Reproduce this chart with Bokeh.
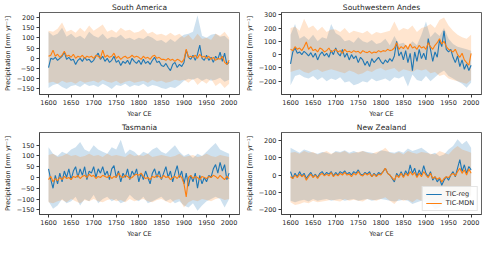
from bokeh.plotting import figure
from bokeh.layouts import gridplot
from bokeh.models import Range1d, FixedTicker, Legend, LegendItem
from bokeh.embed import file_html
from bokeh.resources import INLINE

YEARS = list(range(1600, 2001, 5))
BAND_YEARS = list(range(1600, 2001, 10))
X_TICKS = [1600, 1650, 1700, 1750, 1800, 1850, 1900, 1950, 2000]

# ---------------- South America ----------------
sa_reg = [-45, 0, -5, 5, -10, 0, 10, 30, -5, 5,
          -10, -5, -30, -10, 0, -15, 5, -10, -5, -20,
          -10, 10, 25, -5, 10, -15, 0, -20, -10, 10,
          -20, -10, -35, -15, -25, -10, -30, 0, -15, -25,
          -10, -30, -5, -25, -15, -30, -10, 5, -20, -15,
          -35, -40, -25, -45, -60, -30, -20, -45, -30, -40,
          -20, 40, 5, -5, 15, -10, 20, 65, 0, -10,
          15, -10, 5, -20, 10, -5, 30, -15, 25, -30, -20]
sa_mdn = [10, 15, 40, 10, 20, 5, 15, 35, 10, 15,
          5, 20, 0, 10, 5, 15, 0, 10, 5, 10,
          0, 15, 10, 0, 40, 5, 15, 5, 10, 25,
          0, 10, -5, 5, 10, 0, 5, 15, 5, 10,
          5, -5, 10, 0, 5, -5, 10, 15, 0, 5,
          -5, -5, -10, 0, -10, -5, -15, -5, -10, -20,
          -5, 45, 5, 10, 5, 15, 0, 20, 5, 10,
          0, 10, -5, 5, -10, 0, -5, 10, -20, -30, -10]
sa_mdn_hi = [135, 130, 145, 175, 130, 140, 125, 150, 130, 160,
             135, 150, 165, 130, 140, 125, 150, 135, 140, 125,
             130, 145, 120, 130, 115, 120, 110, 125, 110, 120,
             100, 115, 90, 120, 95, 100, 90, 120, 110, 130, 100]
sa_mdn_lo = [-120, -115, -125, -110, -120, -115, -125, -110, -120, -115,
             -110, -120, -105, -115, -120, -110, -125, -115, -110, -120,
             -115, -110, -120, -105, -115, -110, -120, -115, -105, -110,
             -105, -120, -100, -130, -110, -125, -100, -135, -120, -145, -125]
sa_reg_hi = [130, 110, 120, 150, 105, 120, 100, 110, 95, 130,
             110, 100, 120, 95, 105, 100, 115, 95, 100, 90,
             100, 95, 110, 100, 85, 90, 75, 95, 80, 100,
             115, 120, 130, 210, 110, 100, 115, 120, 105, 110, 90]
sa_reg_lo = [-145, -130, -125, -140, -150, -135, -130, -140, -125, -135,
             -130, -140, -125, -135, -150, -130, -135, -125, -140, -130,
             -135, -125, -140, -130, -135, -145, -150, -140, -145, -130,
             -110, -100, -105, -95, -110, -100, -110, -105, -95, -115, -105]

# ---------------- Southwestern Andes ----------------
swa_reg = [-70, 20, 50, 10, 20, 0, 25, 10, -10, 15,
           -20, 10, -40, 0, 20, -10, 10, -20, 30, 0,
           50, 10, -10, 40, -20, 10, -40, 0, -30, -10,
           -60, -20, -40, -80, -50, -90, -30, -60, -40, -20,
           -50, -70, -40, -60, -30, -50, -10, 100, -10, 20,
           -40, 30, -60, 10, -120, 20, -50, 40, -30, 10,
           -40, 120, 40, -50, 20, -20, 110, 60, 180, 40,
           20, 40, -20, -60, -10, -90, -40, -110, -70, -120, -80]
swa_mdn = [40, 30, 60, 40, 50, 30, 60, 95, 40, 60,
           30, 40, 20, 50, 40, 20, 30, 50, 20, 30,
           40, 20, 30, 10, 40, 20, 25, 15, 30, 20,
           25, 10, 30, 20, 15, 25, 10, 20, 15, 30,
           20, 30, 25, 40, 30, 35, 50, 90, 40, 60,
           45, 70, 40, 80, 50, 60, 40, 70, 50, 60,
           40, 90, 60, 40, 70, 90, 120, 80, 100, 60,
           40, 30, 20, 40, 0, -20, 10, -40, -60, -80, 10]
swa_mdn_hi = [200, 210, 180, 270, 200, 220, 180, 210, 170, 190,
              190, 170, 200, 160, 180, 170, 160, 180, 150, 170,
              160, 170, 180, 250, 180, 200, 190, 220, 170, 200,
              210, 230, 200, 260, 280, 220, 180, 150, 130, 120, 150]
swa_mdn_lo = [-130, -120, -110, -130, -140, -120, -110, -130, -120, -110,
              -120, -130, -140, -120, -130, -150, -140, -120, -130, -110,
              -100, -120, -110, -100, -130, -110, -120, -130, -110, -120,
              -110, -140, -130, -160, -150, -180, -190, -200, -210, -220, -190]
swa_reg_hi = [150, 230, 120, 140, 110, 150, 100, 130, 120, 230,
              160, 140, 100, 110, 90, 130, 100, 90, 110, 80,
              90, 120, 70, 140, 80, 90, 60, 100, 70, 150,
              250, 130, 170, 140, 200, 120, 80, 60, 50, 40, 30]
swa_reg_lo = [-230, -160, -150, -170, -180, -160, -190, -170, -200, -180,
              -190, -170, -210, -200, -230, -220, -200, -210, -180, -200,
              -190, -180, -200, -170, -180, -160, -240, -150, -190, -200,
              -160, -200, -170, -140, -120, -160, -180, -200, -220, -250, -210]

# ---------------- Tasmania ----------------
tas_reg = [40, -10, -50, 10, -30, 20, -20, 30, 0, 40,
           -10, 30, 50, 0, 40, 10, 50, -10, 30, 20,
           50, 0, 40, 20, 50, 10, 30, -10, 40, 55,
           0, 30, -20, 20, 0, 40, -10, 30, 10, 40,
           -20, 20, -10, 30, 0, -30, 20, 40, 0, 30,
           -10, 20, 50, 0, 30, -20, 20, 55, 0, 30,
           -30, 20, -40, 10, -20, 20, -50, 10, -30, 0,
           -20, 10, 0, 40, 60, 20, 70, 30, 60, -10, 20]
tas_mdn = [-10, 5, -20, -5, -15, 0, -10, 5, -5, 0,
           -10, 5, 0, 10, -5, 5, 10, 0, 15, 5,
           10, -5, 5, 0, 10, 5, 0, 10, -5, 5,
           0, 20, 5, 0, 10, 5, -5, 0, 10, 15,
           10, 20, 5, -5, 0, -10, 5, 0, 10, 5,
           -5, 10, 0, 5, -10, 0, 5, -5, 10, 0,
           -30, -90, 0, 10, -5, 5, 0, -10, 5, 0,
           -5, 5, 0, 10, 5, -5, 10, 0, -10, 5, -5]
tas_mdn_hi = [105, 110, 95, 100, 110, 100, 105, 95, 100, 110,
              100, 105, 95, 110, 100, 105, 100, 95, 110, 100,
              105, 100, 110, 95, 100, 105, 100, 95, 100, 110,
              95, 100, 105, 95, 100, 110, 100, 95, 105, 100, 95]
tas_mdn_lo = [-115, -120, -110, -105, -115, -100, -110, -120, -105, -110,
              -100, -110, -115, -105, -100, -110, -105, -115, -100, -110,
              -105, -100, -110, -115, -105, -100, -110, -120, -105, -100,
              -140, -115, -105, -110, -100, -105, -110, -100, -95, -105, -100]
tas_reg_hi = [140, 110, 100, 120, 110, 130, 140, 165, 130, 120,
              150, 130, 120, 110, 140, 130, 175, 110, 130, 120,
              100, 120, 110, 130, 140, 120, 110, 130, 150, 120,
              100, 110, 90, 110, 100, 120, 140, 160, 130, 120, 110]
tas_reg_lo = [-110, -145, -130, -100, -120, -110, -90, -130, -100, -110,
              -80, -120, -100, -90, -110, -100, -120, -110, -80, -100,
              -110, -90, -120, -110, -100, -90, -110, -100, -120, -110,
              -130, -140, -120, -155, -130, -110, -100, -90, -100, -140, -100]

# ---------------- New Zealand ----------------
nz_reg = [20, -20, 10, -10, 20, -5, 10, -20, 0, 15,
          -10, 5, -15, 10, 20, 0, 15, 5, 20, -5,
          15, 0, 20, 10, 25, 5, 15, 0, 20, 10,
          30, 5, 0, 15, 5, 20, -10, 10, -5, 15,
          5, 20, 40, 10, 0, -20, -40, 10, -10, 20,
          -10, 25, 0, 60, 10, 40, -10, 30, 0, 55,
          10, -10, 20, -30, -10, -40, -20, -60, -30, -10,
          -30, 0, 20, -10, 40, 90, 20, 60, 10, 50, 30]
nz_mdn = [-10, -20, 0, -15, 5, -10, 0, -30, -10, 5,
          -15, 0, -20, 0, 10, -5, 5, -5, 15, -10,
          5, -5, 10, 0, 15, 0, 5, -10, 10, 0,
          20, 0, -5, 10, 0, 10, -10, 5, -10, 5,
          0, 20, 40, 10, 0, -15, -30, 0, -15, 10,
          -15, 10, -5, 20, 0, 15, -15, 10, -10, 20,
          0, -15, 10, -20, -10, -25, -15, -40, -20, -10,
          -15, 0, 10, -5, 20, 40, 10, 30, 0, 35, 10]
nz_mdn_hi = [130, 135, 125, 140, 130, 135, 120, 130, 140, 125,
             135, 130, 140, 125, 130, 135, 140, 130, 125, 135,
             140, 160, 130, 125, 135, 120, 140, 130, 125, 135,
             130, 125, 120, 140, 130, 120, 150, 170, 150, 140, 130]
nz_mdn_lo = [-160, -175, -170, -160, -165, -150, -160, -155, -150, -145,
             -150, -155, -140, -150, -145, -150, -155, -140, -145, -150,
             -140, -130, -150, -170, -140, -150, -145, -160, -140, -150,
             -140, -150, -160, -145, -150, -140, -130, -100, -120, -110, -130]
nz_reg_hi = [160, 145, 130, 150, 140, 130, 125, 135, 130, 120,
             140, 135, 145, 130, 140, 130, 140, 135, 130, 125,
             145, 140, 135, 130, 140, 130, 155, 140, 150, 160,
             140, 120, 130, 110, 120, 150, 170, 210, 180, 200, 160]
nz_reg_lo = [-150, -160, -150, -145, -155, -140, -150, -145, -140, -150,
             -145, -140, -150, -145, -140, -150, -145, -140, -150, -145,
             -140, -145, -150, -155, -150, -145, -150, -170, -160, -150,
             -160, -170, -200, -190, -160, -150, -120, -100, -90, -110, -120]

BLUE = "#1f77b4"
ORANGE = "#ff7f0e"
FONT = "DejaVu Sans"
TXT = "#262626"


def panel(title, reg, mdn, reg_hi, reg_lo, mdn_hi, mdn_lo, yr, yticks, legend=False):
    p = figure(width=242, height=120, output_backend="svg", toolbar_location=None,
               x_range=Range1d(1580, 2023), y_range=Range1d(*yr),
               min_border_left=6, min_border_right=3, min_border_top=2, min_border_bottom=2)
    p.title.text = title
    p.title.align = "center"
    p.title.text_font = FONT
    p.title.text_font_size = "7.5px"
    p.title.text_font_style = "normal"
    p.title.text_color = TXT
    p.title.offset = 0
    p.title.standoff = 1
    p.xgrid.visible = False
    p.ygrid.visible = False
    p.outline_line_color = "#3a3a3a"
    p.outline_line_width = 0.8
    for ax in (p.xaxis[0], p.yaxis[0]):
        ax.axis_line_color = "#3a3a3a"
        ax.axis_line_width = 0.8
        ax.major_tick_line_color = "#3a3a3a"
        ax.major_tick_out = 3
        ax.major_tick_in = 0
        ax.minor_tick_line_color = None
        ax.major_label_text_font = FONT
        ax.major_label_text_font_size = "6.5px"
        ax.major_label_text_color = TXT
        ax.axis_label_text_font = FONT
        ax.axis_label_text_font_size = "6.5px"
        ax.axis_label_text_font_style = "normal"
        ax.axis_label_text_color = TXT
        ax.major_label_standoff = 2
        ax.axis_label_standoff = 2
    p.xaxis.ticker = FixedTicker(ticks=X_TICKS)
    p.yaxis.ticker = FixedTicker(ticks=yticks)
    p.xaxis.axis_label = "Year CE"
    p.yaxis.axis_label = "Precipitation [mm yr\u207b\u00b9]"

    p.varea(x=BAND_YEARS, y1=reg_lo, y2=reg_hi, fill_color=BLUE, fill_alpha=0.22)
    p.varea(x=BAND_YEARS, y1=mdn_lo, y2=mdn_hi, fill_color=ORANGE, fill_alpha=0.2)
    r1 = p.line(YEARS, reg, line_color=BLUE, line_width=1.1)
    r2 = p.line(YEARS, mdn, line_color=ORANGE, line_width=1.1)
    if legend:
        lg = Legend(items=[LegendItem(label="TIC-reg", renderers=[r1]),
                           LegendItem(label="TIC-MDN", renderers=[r2])],
                    location="bottom_right")
        lg.label_text_font = FONT
        lg.label_text_font_size = "6.5px"
        lg.label_text_color = TXT
        lg.glyph_width = 16
        lg.glyph_height = 8
        lg.label_height = 8
        lg.spacing = 1
        lg.padding = 3
        lg.margin = 3
        lg.label_standoff = 4
        lg.border_line_color = "#cccccc"
        lg.background_fill_alpha = 0.85
        p.add_layout(lg)
    return p


p1 = panel("South America", sa_reg, sa_mdn, sa_reg_hi, sa_reg_lo, sa_mdn_hi, sa_mdn_lo,
           (-177, 224), [-150, -100, -50, 0, 50, 100, 150, 200])
p2 = panel("Southwestern Andes", swa_reg, swa_mdn, swa_reg_hi, swa_reg_lo, swa_mdn_hi, swa_mdn_lo,
           (-300, 317), [-200, -100, 0, 100, 200, 300])
p3 = panel("Tasmania", tas_reg, tas_mdn, tas_reg_hi, tas_reg_lo, tas_mdn_hi, tas_mdn_lo,
           (-172, 209), [-150, -100, -50, 0, 50, 100, 150])
p4 = panel("New Zealand", nz_reg, nz_mdn, nz_reg_hi, nz_reg_lo, nz_mdn_hi, nz_mdn_lo,
           (-231, 249), [-200, -100, 0, 100, 200], legend=True)

grid = gridplot([[p1, p2], [p3, p4]], toolbar_location=None)
open("out.html", "w").write(file_html(grid, INLINE))
